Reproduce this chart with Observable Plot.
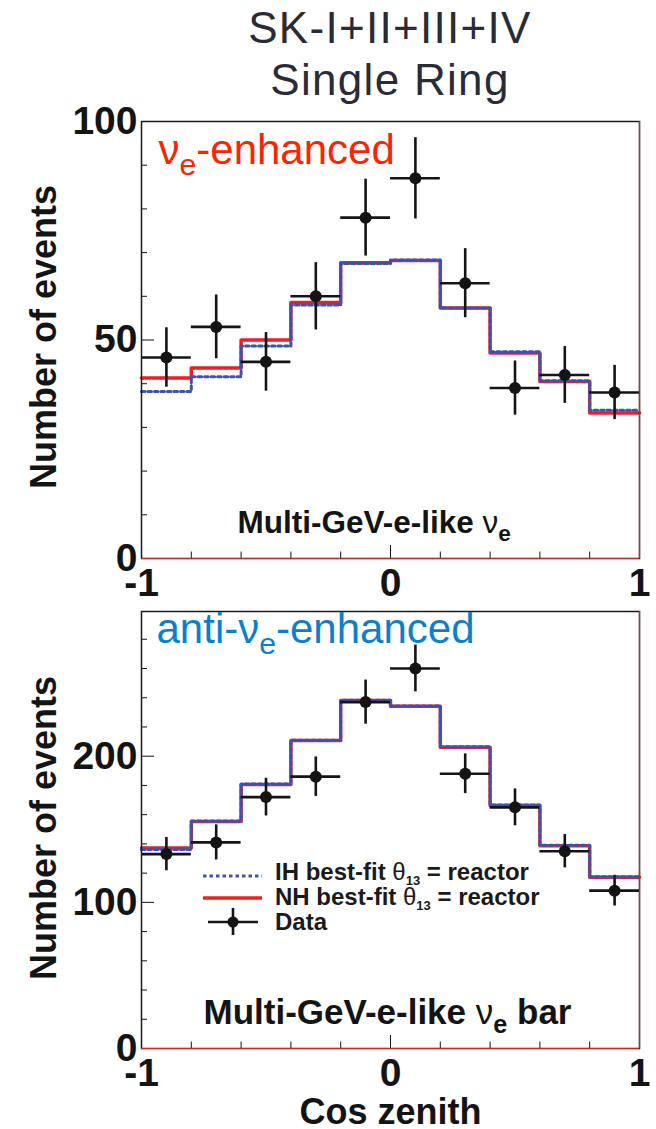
<!DOCTYPE html>
<html>
<head>
<meta charset="utf-8">
<script src="https://cdn.jsdelivr.net/npm/d3@7"></script>
<script src="https://cdn.jsdelivr.net/npm/@observablehq/plot@0.6"></script>
<style>
  html, body { margin: 0; padding: 0; background: #fff; }
  #wrap { position: relative; width: 656px; height: 1129px; overflow: hidden; background: #fff;
          font-family: "Liberation Sans", Arial, Helvetica, sans-serif; }
  #top, #bottom { position: absolute; left: 0; }
  #top { top: 100px; }
  #bottom { top: 590px; }
  #overlay { position: absolute; left: 0; top: 0; pointer-events: none; }
</style>
</head>
<body>
<div id="wrap">
  <div id="top"></div>
  <div id="bottom"></div>
  <svg id="overlay" width="656" height="1129" font-family="'Liberation Sans', Arial, Helvetica, sans-serif">
    <g fill="#2b2b36" font-size="44" text-anchor="middle" letter-spacing="1.3">
      <text x="390" y="43">SK-I+II+III+IV</text>
      <text x="390" y="95">Single Ring</text>
    </g>
    <g id="legend" font-weight="bold" font-size="24" fill="#1a1a1a">
      <line x1="203" x2="262" y1="876" y2="876" stroke="#3a55b5" stroke-width="3" stroke-dasharray="3.5 3"/>
      <text x="275" y="880">IH best-fit <tspan font-weight="normal">θ</tspan><tspan font-size="13" dy="5">13</tspan><tspan dy="-5"> = reactor</tspan></text>
      <line x1="203" x2="262" y1="898" y2="898" stroke="#ee2020" stroke-width="3.5"/>
      <text x="275" y="905">NH best-fit <tspan font-weight="normal">θ</tspan><tspan font-size="13" dy="5">13</tspan><tspan dy="-5"> = reactor</tspan></text>
      <line x1="208" x2="258" y1="922" y2="922" stroke="#141414" stroke-width="2.6"/>
      <line x1="233" x2="233" y1="908" y2="935" stroke="#141414" stroke-width="2.6"/>
      <circle cx="233" cy="922" r="5.5" fill="#141414"/>
      <text x="275" y="930">Data</text>
    </g>
  </svg>
</div>
<script>
// ---- binning (cos zenith) ----
const cosEdges   = [-1, -0.8, -0.6, -0.4, -0.2, 0, 0.2, 0.4, 0.6, 0.8, 1];
const cosCenters = [-0.9, -0.7, -0.5, -0.3, -0.1, 0.1, 0.3, 0.5, 0.7, 0.9];
const xTicksMajor = [-1, 0, 1];
const xTicksMinor = [-0.8, -0.6, -0.4, -0.2, 0.2, 0.4, 0.6, 0.8];

// ---- Multi-GeV e-like nu_e (nu_e-enhanced) ----
const nueData = [46, 53, 45, 60, 78, 87, 63, 39, 42, 38];
const nueErr  = [6.8, 7.3, 6.7, 7.7, 8.8, 9.3, 7.9, 6.2, 6.5, 6.2];
const nueNH   = [41.3, 43.6, 50.0, 58.6, 67.7, 68.2, 57.3, 47.0, 40.5, 33.3];
const nueIH   = [38.2, 41.6, 48.6, 58.0, 67.5, 68.3, 57.3, 47.3, 40.7, 33.9];
const nueYMajor = [0, 50, 100];
const nueYMinor = [10, 20, 30, 40, 60, 70, 80, 90];

// ---- Multi-GeV e-like nu_e bar (anti-nu_e-enhanced) ----
const nuebarData = [133, 141, 172, 186, 237, 260, 188, 165, 135, 108];
const nuebarErr  = [11.4, 12.0, 12.9, 13.5, 15.1, 16.0, 13.6, 12.6, 11.4, 10.5];
const nuebarNH   = [137.2, 155.3, 180.6, 210.7, 238.1, 234.2, 206.2, 166.2, 138.8, 117.1];
const nuebarIH   = [136.2, 155.6, 180.9, 210.9, 238.3, 234.4, 206.5, 166.6, 139.1, 117.5];
const nuebarYMajor = [0, 100, 200];
const nuebarYMinor = [20, 40, 60, 80, 120, 140, 160, 180, 220, 240, 260, 280];

const yTitle = "Number of events";
const xTitle = "Cos zenith";

const FONT = "'Liberation Sans', Arial, Helvetica, sans-serif";
const INK = "#141414";

function panel(o) {
  const pts = cosCenters.map((c, i) => ({c, v: o.data[i], e: o.err[i]}));
  const steps = vals => vals.flatMap((v, i) => [{x: cosEdges[i], y: v}, {x: cosEdges[i + 1], y: v}]);
  const fmt = d => (d < 0 ? "-" + Math.abs(d) : String(d));
  const marks = [
    Plot.axisY({ticks: o.yMinor, tickSize: -6, tickFormat: () => "", label: null, stroke: INK}),
    Plot.axisY({ticks: o.yMajor, tickSize: -13, tickFormat: () => "", label: null, stroke: INK}),
    Plot.axisY({ticks: o.yMajor, tickSize: 0, tickPadding: 4, tickFormat: fmt, label: null,
                fontSize: 39, fontWeight: "bold", fill: INK}),
    Plot.axisX({ticks: xTicksMinor, tickSize: -6.5, tickFormat: () => "", label: null, stroke: INK}),
    Plot.axisX({ticks: xTicksMajor, tickSize: -13, tickFormat: () => "", label: null, stroke: INK}),
    Plot.axisX({ticks: xTicksMajor, tickSize: 0, tickPadding: 10, tickFormat: fmt, label: null,
                fontSize: 39, fontWeight: "bold", fill: INK}),
    Plot.line(steps(o.nh), {x: "x", y: "y", stroke: "#ec1f26", strokeWidth: 3.5}),
    Plot.line(steps(o.ih), {x: "x", y: "y", stroke: "#3a52b0", strokeWidth: 3, strokeDasharray: "3.5 3"}),
    Plot.ruleY(pts, {y: "v", x1: d => d.c - 0.1, x2: d => d.c + 0.1, stroke: INK, strokeWidth: 2.6}),
    Plot.ruleX(pts, {x: "c", y1: d => d.v - d.e, y2: d => d.v + d.e, stroke: INK, strokeWidth: 2.6}),
    Plot.dot(pts, {x: "c", y: "v", r: 6, fill: INK}),
    Plot.frame({stroke: "#1a1a1a", strokeWidth: 1.5}),
    Plot.ruleY([0], {stroke: "#c02a2a", strokeWidth: 1.2}),
    Plot.ruleX([1], {stroke: "#c02a2a", strokeWidth: 1.2}),
    Plot.text([yTitle], {text: d => d, frameAnchor: "left", textAnchor: "middle", rotate: -90, lineAnchor: "bottom",
                         dx: -86, dy: o.yTitleDy, fontSize: 36, fontWeight: "bold", fill: INK}),
    Plot.text([o.tag], {text: d => d, frameAnchor: "top-left", textAnchor: "start", lineAnchor: "bottom",
                        dx: o.tagDx, dy: o.tagDy, fontSize: 42, fill: o.tagColor}),
    Plot.text([o.sample], {text: d => d, frameAnchor: "bottom-left", textAnchor: "start", lineAnchor: "bottom",
                           dx: o.sampleDx, dy: o.sampleDy, fontSize: o.sampleSize, fontWeight: "bold", fill: INK})
  ];
  if (o.xTitle) {
    marks.push(Plot.text([o.xTitle], {text: d => d, frameAnchor: "bottom", textAnchor: "middle", lineAnchor: "bottom",
                                      dy: 75, fontSize: 36, fontWeight: "bold", fill: INK}));
  }
  return Plot.plot({
    width: 656, height: o.height,
    marginLeft: 141, marginRight: 17, marginTop: 21, marginBottom: o.marginBottom,
    style: {background: "transparent", fontFamily: FONT, color: INK, overflow: "visible"},
    x: {domain: [-1, 1]},
    y: {domain: [0, o.ymax]},
    marks
  });
}

// subscript / greek formatting: "ν_{e}" -> ν + subscript e
function richText(root) {
  const ns = "http://www.w3.org/2000/svg";
  root.querySelectorAll("text").forEach(t => {
    if (t.querySelector("tspan")) return;
    const s = t.textContent;
    if (!s.includes("_{") && !/[νθ]/.test(s)) return;
    const fs = parseFloat(getComputedStyle(t).fontSize) || 16;
    while (t.firstChild) t.removeChild(t.firstChild);
    const re = /([νθ])|_\{([^}]*)\}|([^νθ_]+|_)/g;
    let m, shifted = 0;
    while ((m = re.exec(s))) {
      const sp = document.createElementNS(ns, "tspan");
      if (m[2] !== undefined) {
        const sh = fs * 0.27;
        sp.setAttribute("font-size", (fs * 0.72).toFixed(1));
        sp.setAttribute("dy", sh.toFixed(1));
        shifted += sh;
        sp.textContent = m[2];
      } else {
        if (shifted) { sp.setAttribute("dy", (-shifted).toFixed(1)); shifted = 0; }
        if (m[1]) sp.setAttribute("font-weight", "normal");
        sp.textContent = m[1] || m[3];
      }
      t.appendChild(sp);
    }
  });
}

const topPlot = panel({
  data: nueData, err: nueErr, nh: nueNH, ih: nueIH,
  ymax: 100, yMajor: nueYMajor, yMinor: nueYMinor,
  height: 520, marginBottom: 62, yTitleDy: -3,
  tag: "ν_{e}-enhanced", tagColor: "#ff2200", tagDx: 17, tagDy: 42,
  sample: "Multi-GeV-e-like ν_{e}", sampleDx: 96, sampleDy: -26, sampleSize: 31.5
});
const bottomPlot = panel({
  data: nuebarData, err: nuebarErr, nh: nuebarNH, ih: nuebarIH,
  ymax: 299, yMajor: nuebarYMajor, yMinor: nuebarYMinor,
  height: 539, marginBottom: 81, yTitleDy: -2,
  tag: "anti-ν_{e}-enhanced", tagColor: "#0b7fcf", tagDx: 15, tagDy: 31,
  sample: "Multi-GeV-e-like ν_{e} bar", sampleDx: 62, sampleDy: -25, sampleSize: 35,
  xTitle: xTitle
});
document.getElementById("top").appendChild(topPlot);
document.getElementById("bottom").appendChild(bottomPlot);
richText(topPlot);
richText(bottomPlot);
</script>
</body>
</html>
